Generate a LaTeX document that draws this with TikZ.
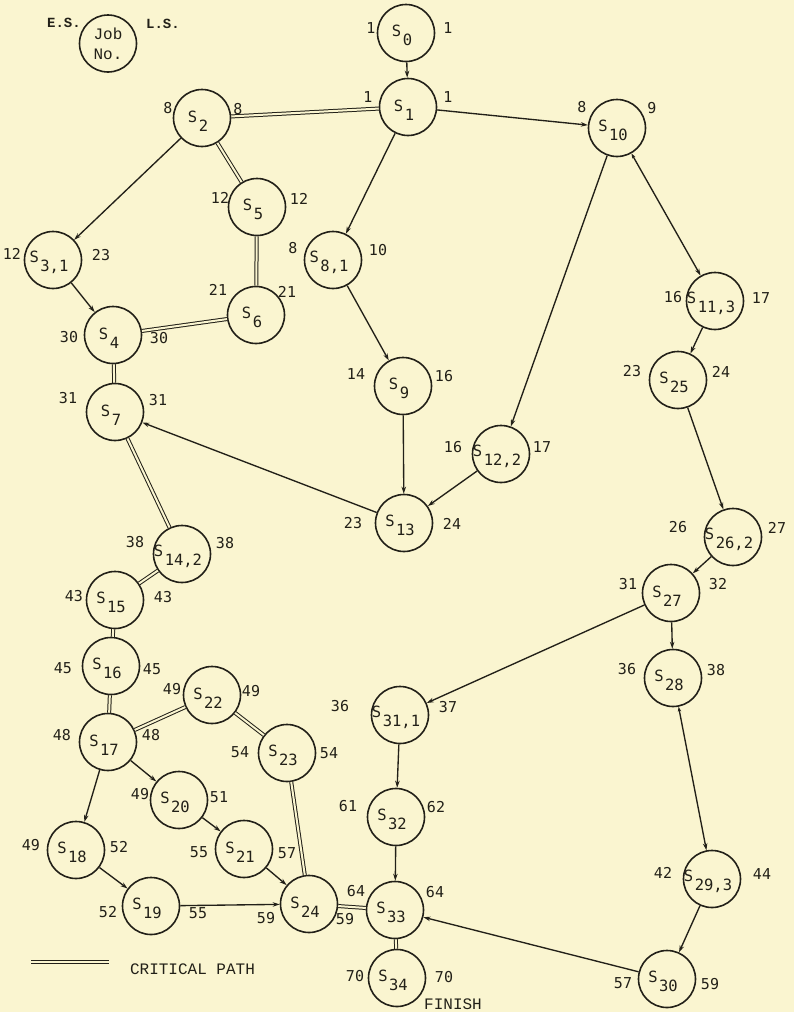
\documentclass[tikz,border=0pt]{standalone}
\usepackage{fontspec}
\usetikzlibrary{arrows.meta}
\newfontfamily\sansmono{DejaVu Sans Mono}
\newfontfamily\typemono{Liberation Mono}
\definecolor{paper}{RGB}{250,245,208}
\definecolor{ink}{RGB}{34,32,24}
% job label: S with a lowered index, slightly left of the circle centre
\newcommand\stxt[1]{\makebox[0pt]{\rule{0pt}{17pt}S\kern1.5pt\raisebox{-9pt}{#1}\kern8pt}}
\tikzset{
  job/.style={circle, draw=ink, line width=1.6pt, minimum size=57pt, inner sep=0pt,
              text=ink, font=\sansmono\fontsize{15.5}{18}\selectfont},
  num/.style={inner sep=0pt, text=ink, font=\sansmono\fontsize{15}{18}\selectfont},
  note/.style={inner sep=0pt, text=ink, font=\typemono\fontsize{16}{19}\selectfont},
  arr/.style={draw=ink, line width=1.35pt, -{Stealth[length=7pt, width=4.5pt]}},
  arrtwo/.style={draw=ink, line width=1.35pt, {Stealth[length=5pt, width=3.5pt]}-{Stealth[length=7pt, width=4.5pt]}},
  crit/.style={draw=ink, line width=1pt, double=paper, double distance=2pt},
}
\begin{document}
\begin{tikzpicture}[x=1pt, y=-1pt]
\fill[paper] (0,0) rectangle (794,1012);
\useasboundingbox (0,0) rectangle (794,1012);

% key
\node[job, font=\typemono\fontsize{16}{20}\selectfont, align=center] (key) at (108,43.5) {Job\\No.};
\node[inner sep=0pt, text=ink, font=\typemono\bfseries\fontsize{14}{16}\selectfont] (keyes) at (64,23) {E.S.};
\node[inner sep=0pt, text=ink, font=\typemono\bfseries\fontsize{14}{16}\selectfont] (keyls) at (163,24) {L.S.};

% jobs
\node[job] (s0)  at (406,33)  {\stxt{0}};
\node[job] (s1)  at (408,107) {\stxt{1}};
\node[job] (s2)  at (202,118) {\stxt{2}};
\node[job] (s10) at (617,128) {\stxt{10}};
\node[job] (s5)  at (257,207) {\stxt{5}};
\node[job] (s3)  at (53,260)  {\stxt{3,1}};
\node[job] (s8)  at (333,260) {\stxt{8,1}};
\node[job] (s6)  at (256,315) {\stxt{6}};
\node[job] (s4)  at (113,335) {\stxt{4}};
\node[job] (s7)  at (115,412) {\stxt{7}};
\node[job] (s9)  at (403,386) {\stxt{9}};
\node[job] (s11) at (715,301) {\stxt{11,3}};
\node[job] (s25) at (678,380) {\stxt{25}};
\node[job] (s12) at (501,454) {\stxt{12,2}};
\node[job] (s13) at (404,523) {\stxt{13}};
\node[job] (s26) at (733,537) {\stxt{26,2}};
\node[job] (s27) at (671,593) {\stxt{27}};
\node[job] (s28) at (673,678) {\stxt{28}};
\node[job] (s31) at (400,715) {\stxt{31,1}};
\node[job] (s14) at (182,554) {\stxt{14,2}};
\node[job] (s15) at (115,600) {\stxt{15}};
\node[job] (s16) at (111,666) {\stxt{16}};
\node[job] (s22) at (212,695) {\stxt{22}};
\node[job] (s17) at (108,742) {\stxt{17}};
\node[job] (s23) at (287,753) {\stxt{23}};
\node[job] (s20) at (179,800) {\stxt{20}};
\node[job] (s18) at (76,850)  {\stxt{18}};
\node[job] (s21) at (244,849) {\stxt{21}};
\node[job] (s19) at (151,906) {\stxt{19}};
\node[job] (s24) at (309,904) {\stxt{24}};
\node[job] (s32) at (396,817) {\stxt{32}};
\node[job] (s33) at (395,910) {\stxt{33}};
\node[job] (s34) at (397,978) {\stxt{34}};
\node[job] (s29) at (712,879) {\stxt{29,3}};
\node[job] (s30) at (667,979) {\stxt{30}};

% early / late start times
\node[num] (es0)  at (371,28)  {1};  \node[num] (ls0)  at (448,28)  {1};
\node[num] (es1)  at (368,97)  {1};  \node[num] (ls1)  at (448,97)  {1};
\node[num] (es2)  at (168,108) {8};  \node[num] (ls2)  at (238,109) {8};
\node[num] (es10) at (582,107) {8};  \node[num] (ls10) at (652,108) {9};
\node[num] (es5)  at (220,198) {12}; \node[num] (ls5)  at (299,199) {12};
\node[num] (es3)  at (12,254)  {12}; \node[num] (ls3)  at (101,255) {23};
\node[num] (es8)  at (293,248) {8};  \node[num] (ls8)  at (378,250) {10};
\node[num] (es6)  at (218,290) {21}; \node[num] (ls6)  at (287,292) {21};
\node[num] (es4)  at (69,337)  {30}; \node[num] (ls4)  at (159,338) {30};
\node[num] (es7)  at (68,398)  {31}; \node[num] (ls7)  at (158,400) {31};
\node[num] (es9)  at (356,374) {14}; \node[num] (ls9)  at (444,376) {16};
\node[num] (es11) at (673,297) {16}; \node[num] (ls11) at (761,298) {17};
\node[num] (es25) at (632,371) {23}; \node[num] (ls25) at (721,372) {24};
\node[num] (es12) at (453,447) {16}; \node[num] (ls12) at (542,447) {17};
\node[num] (es13) at (353,523) {23}; \node[num] (ls13) at (452,524) {24};
\node[num] (es26) at (678,527) {26}; \node[num] (ls26) at (777,528) {27};
\node[num] (es27) at (628,584) {31}; \node[num] (ls27) at (718,584) {32};
\node[num] (es28) at (627,669) {36}; \node[num] (ls28) at (716,670) {38};
\node[num] (es31) at (340,706) {36}; \node[num] (ls31) at (448,707) {37};
\node[num] (es14) at (135,542) {38}; \node[num] (ls14) at (225,543) {38};
\node[num] (es15) at (74,596)  {43}; \node[num] (ls15) at (163,597) {43};
\node[num] (es16) at (63,668)  {45}; \node[num] (ls16) at (152,669) {45};
\node[num] (es22) at (172,689) {49}; \node[num] (ls22) at (251,691) {49};
\node[num] (es17) at (62,735)  {48}; \node[num] (ls17) at (151,735) {48};
\node[num] (es23) at (240,752) {54}; \node[num] (ls23) at (329,753) {54};
\node[num] (es20) at (140,794) {49}; \node[num] (ls20) at (219,797) {51};
\node[num] (es18) at (31,845)  {49}; \node[num] (ls18) at (119,847) {52};
\node[num] (es21) at (199,852) {55}; \node[num] (ls21) at (287,853) {57};
\node[num] (es19) at (108,912) {52}; \node[num] (ls19) at (198,913) {55};
\node[num] (es24) at (266,918) {59}; \node[num] (ls24) at (345,919) {59};
\node[num] (es33) at (356,891) {64}; \node[num] (ls33) at (435,892) {64};
\node[num] (es32) at (348,806) {61}; \node[num] (ls32) at (436,807) {62};
\node[num] (es34) at (355,976) {70}; \node[num] (ls34) at (444,977) {70};
\node[num] (es29) at (663,873) {42}; \node[num] (ls29) at (762,874) {44};
\node[num] (es30) at (623,983) {57}; \node[num] (ls30) at (710,984) {59};

% ordinary precedences
\draw[arr] (s0) -- (s1);
\draw[arr] (s1) -- (s10);
\draw[arr] (s1) -- (s8);
\draw[arr] (s2) -- (s3);
\draw[arr] (s3) -- (s4);
\draw[arr] (s8) -- (s9);
\draw[arr] (s9) -- (s13);
\draw[arr] (s10) -- (s12);
\draw[arrtwo] (s10) -- (s11);
\draw[arr] (s12) -- (s13);
\draw[arr] (s13) -- (s7);
\draw[arr] (s11) -- (s25);
\draw[arr] (s25) -- (s26);
\draw[arr] (s26) -- (s27);
\draw[arr] (s27) -- (s31);
\draw[arr] (s27) -- (s28);
\draw[arrtwo] (s28) -- (s29);
\draw[arr] (s29) -- (s30);
\draw[arr] (s30) -- (s33);
\draw[arr] (s31) -- (s32);
\draw[arr] (s32) -- (s33);
\draw[arr] (s17) -- (s18);
\draw[arr] (s17) -- (s20);
\draw[arr] (s20) -- (s21);
\draw[arr] (s18) -- (s19);
\draw[arr] (s19) -- (s24);
\draw[arr] (s21) -- (s24);

% critical path
\draw[crit] (s1) -- (s2);
\draw[crit] (s2) -- (s5);
\draw[crit] (s5) -- (s6);
\draw[crit] (s6) -- (s4);
\draw[crit] (s4) -- (s7);
\draw[crit] (s7) -- (s14);
\draw[crit] (s14) -- (s15);
\draw[crit] (s15) -- (s16);
\draw[crit] (s16) -- (s17);
\draw[crit] (s17) -- (s22);
\draw[crit] (s22) -- (s23);
\draw[crit] (s23) -- (s24);
\draw[crit] (s24) -- (s33);
\draw[crit] (s33) -- (s34);

% legend and finish mark
\coordinate (legA) at (31,962);
\coordinate (legB) at (109,962);
\draw[crit] (legA) -- (legB);
\node[note] (legtext) at (192.5,969) {CRITICAL PATH};
\node[note] (finish) at (453,1004) {FINISH};
\end{tikzpicture}
\end{document}
